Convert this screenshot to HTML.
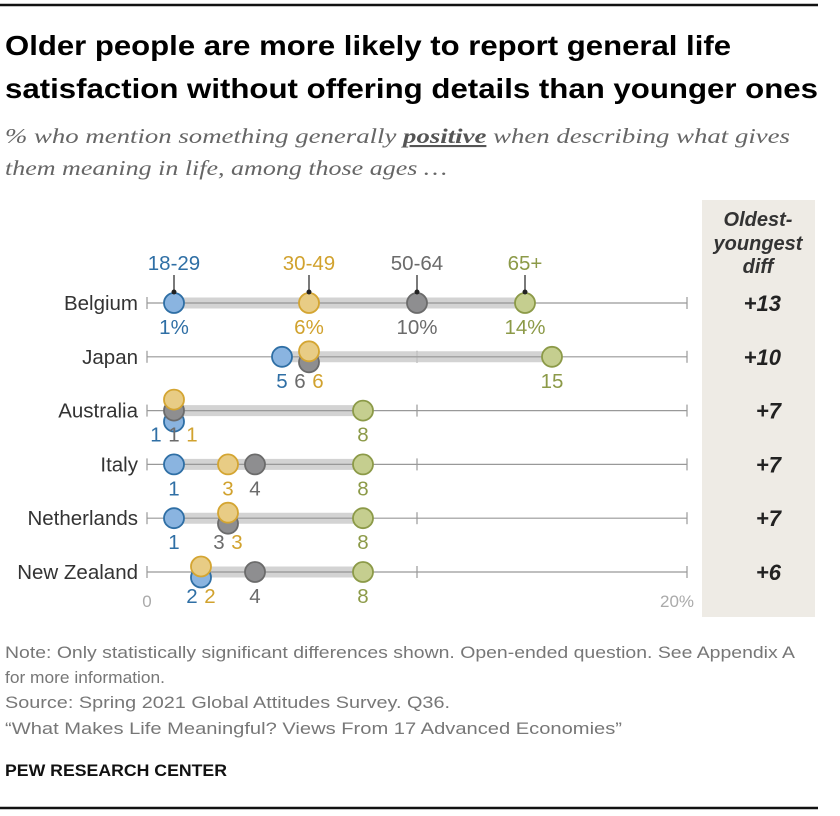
<!DOCTYPE html>
<html><head><meta charset="utf-8"><style>
body{margin:0;background:#fff;}
svg{display:block;font-family:"Liberation Sans",sans-serif;}
</style></head><body>
<svg id="chart" width="840" height="816" viewBox="0 0 840 816" xmlns="http://www.w3.org/2000/svg">
<rect x="0" y="0" width="840" height="816" fill="#fff"/>
<line x1="0" y1="5" x2="818" y2="5" stroke="#111" stroke-width="2.5"/>
<g font-weight="bold" font-size="28" fill="#000">
<text x="5" y="55" textLength="726" lengthAdjust="spacingAndGlyphs">Older people are more likely to report general life</text>
<text x="5" y="98" textLength="813" lengthAdjust="spacingAndGlyphs">satisfaction without offering details than younger ones</text>
</g>
<g font-family="Liberation Serif,serif" font-style="italic" font-size="21" fill="#666">
<text x="5" y="143" textLength="785" lengthAdjust="spacingAndGlyphs">% who mention something generally <tspan font-weight="bold" text-decoration="underline" fill="#555">positive</tspan> when describing what gives</text>
<text x="5" y="175" textLength="442" lengthAdjust="spacingAndGlyphs">them meaning in life, among those ages …</text>
</g>
<rect x="702" y="200" width="113" height="417" fill="#eeebe5"/>
<g font-weight="bold" font-style="italic" font-size="20" fill="#333" text-anchor="middle">
<text x="758" y="226">Oldest-</text>
<text x="758" y="250">youngest</text>
<text x="758" y="273">diff</text>
</g>
<g id="plot"></g>
<g font-size="16.5" fill="#777">
<text x="5" y="658" textLength="790" lengthAdjust="spacingAndGlyphs">Note: Only statistically significant differences shown. Open-ended question. See Appendix A</text>
<text x="5" y="683" textLength="160" lengthAdjust="spacingAndGlyphs">for more information.</text>
<text x="5" y="708" textLength="445" lengthAdjust="spacingAndGlyphs">Source: Spring 2021 Global Attitudes Survey. Q36.</text>
<text x="5" y="734" textLength="617" lengthAdjust="spacingAndGlyphs">“What Makes Life Meaningful? Views From 17 Advanced Economies”</text>
</g>
<text x="5" y="776" font-size="17" font-weight="bold" fill="#111" textLength="222" lengthAdjust="spacingAndGlyphs">PEW RESEARCH CENTER</text>
<line x1="0" y1="808" x2="818" y2="808" stroke="#111" stroke-width="2.5"/>
</svg>
<script>
const countries = ["Belgium","Japan","Australia","Italy","Netherlands","New Zealand"];
const seriesNames = ["18-29","50-64","30-49","65+"];
const age1829 = [1,5,1,1,1,2];
const age5064 = [10,6,1,4,3,4];
const age3049 = [6,6,1,3,3,2];
const age65 = [14,15,8,8,8,8];
const diffs = ["+13","+10","+7","+7","+7","+6"];
const axisTicks = [0,10,20];
const axisLabels = ["0","","20%"];

const NS="http://www.w3.org/2000/svg";
const plot=document.getElementById('plot');
const x0=147,x1=687,xMax=20;
function xs(v){return x0+(x1-x0)*v/xMax;}
const rowTop=303,rowStep=53.8;
function ys(i){return rowTop+i*rowStep;}
const colors=[{t:"#2f6fa5",f:"#8ab4e0",s:"#2f6fa5"},{t:"#6b6b6b",f:"#8e8e90",s:"#6b6b6b"},{t:"#d1a22e",f:"#e8cc85",s:"#d4a532"},{t:"#8c9a48",f:"#c5ce8f",s:"#8c9a48"}];
const series=[age1829,age5064,age3049,age65];
function el(tag,attrs,parent){const e=document.createElementNS(NS,tag);for(const k in attrs)e.setAttribute(k,attrs[k]);(parent||plot).appendChild(e);return e;}

countries.forEach((c,i)=>{
  const y=ys(i);
  const g=el('g',{});
  
  
  const lbl=el('text',{x:138,y:y+7,'text-anchor':'end','font-size':20.5,fill:'#333'},g);
  lbl.textContent=c;
  
  
  const base=el('line',{x1:x0,y1:y,x2:x1,y2:y,stroke:'#999','stroke-width':1.2},g);
  
  
  axisTicks.forEach(t=>{const tk=el('line',{x1:xs(t),y1:y-6,x2:xs(t),y2:y+6,stroke:'#999','stroke-width':1.2},g);
    
    });
  const vals=series.map(s=>s[i]);
  const mn=Math.min(...vals),mx=Math.max(...vals);
  const band=el('line',{x1:xs(mn),y1:y,x2:xs(mx),y2:y,stroke:'#c8c8c8','stroke-width':11,'stroke-opacity':0.8},g);
  
  
  const bl=el('line',{x1:xs(mn),y1:y,x2:xs(mx),y2:y,stroke:'#999','stroke-width':1.2},g);
  
  
  const offs=vals.map((v,k)=>{const same=vals.map((w,j)=>j).filter(j=>vals[j]===v);if(same.length<2)return 0;const pos=same.indexOf(k);return (same.length-1)/2*11-pos*11;});
  const order=vals.map((v,k)=>k).sort((a,b)=>vals[a]-vals[b]||a-b);
  const lx=[];let prev=-1e9;
  order.forEach(k=>{let x=xs(vals[k]);if(x<prev+18)x=prev+18;lx[k]=x;prev=x;});
  const groups={};order.forEach(k=>{(groups[vals[k]]=groups[vals[k]]||[]).push(k);});
  Object.keys(groups).forEach(v=>{const ks=groups[v];if(ks.length<2)return;const mean=ks.reduce((a,k)=>a+lx[k],0)/ks.length;const sh=xs(+v)-mean;ks.forEach(k=>lx[k]+=sh);});
  series.forEach((s,k)=>{
    const cx=xs(s[i]),cy=y+offs[k];
    const dot=el('circle',{cx:cx,cy:cy,r:10,fill:colors[k].f,stroke:colors[k].s,'stroke-width':1.8},g);
    
    
  });
  series.forEach((s,k)=>{
    const t=el('text',{x:lx[k],y:y+31,'text-anchor':'middle','font-size':20.5,fill:colors[k].t},g);
    t.textContent=s[i]+(i===0?'%':'');
    
    
  });
  const d=el('text',{x:781,y:y+8,'text-anchor':'end','font-size':22,'font-weight':'bold','font-style':'italic',fill:'#222'},g);
  d.textContent=diffs[i];
  
  
});
series.forEach((s,k)=>{
  const cx=xs(s[0]),y=ys(0);
  const ln=el('line',{x1:cx,y1:y-28,x2:cx,y2:y-11,stroke:'#222','stroke-width':1.2});
  
  
  const dt=el('circle',{cx:cx,cy:y-11,r:2.5,fill:'#222'});
  
  
  const t=el('text',{x:cx,y:y-33,'text-anchor':'middle','font-size':20.5,fill:colors[k].t});
  t.textContent=seriesNames[k];
  
  
});
axisTicks.forEach((t,k)=>{
  if(!axisLabels[k])return;
  const tx=el('text',{x:xs(t)+(k===0?0:-10),y:607,'text-anchor':'middle','font-size':17,fill:'#aaa'});
  tx.textContent=axisLabels[k];
  
  
});
</script>
</body></html>
